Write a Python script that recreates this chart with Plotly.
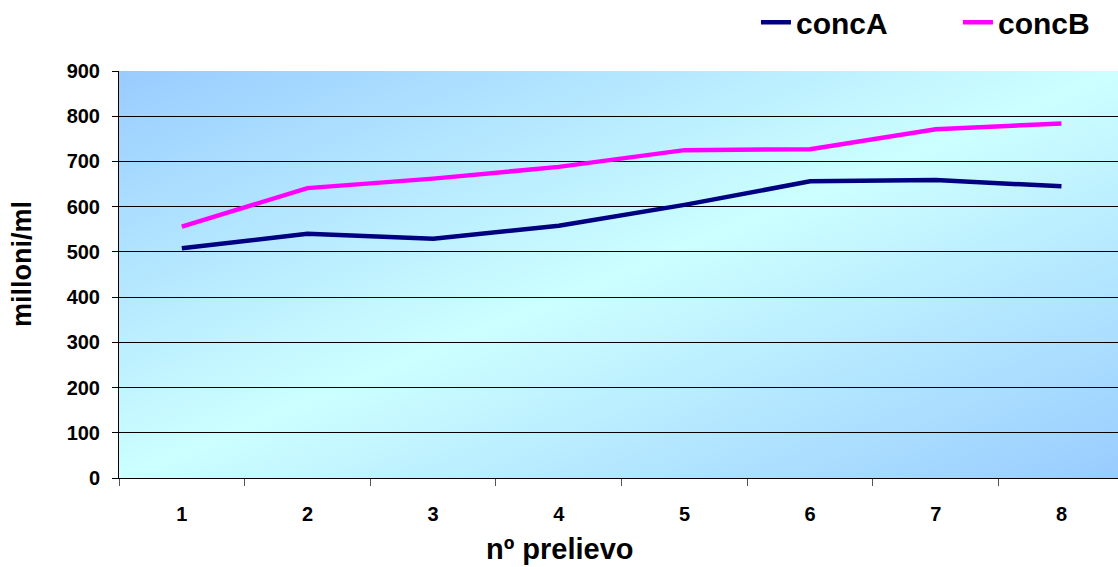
import base64
import plotly.graph_objects as go

# Sample numbers and measured concentrations (millions per ml)
prelievo = ["1", "2", "3", "4", "5", "6", "7", "8"]
conc_a = [508, 540, 529, 558, 604, 656, 659, 645]
conc_b = [556, 641, 662, 688, 725, 727, 771, 784]

y_ticks = [0, 100, 200, 300, 400, 500, 600, 700, 800, 900]
grid_vals = [100, 200, 300, 400, 500, 600, 700, 800]

FONT = "Liberation Sans, Arial, sans-serif"

# Diagonal blue -> cyan -> blue fill for the plotting area
grad_svg = (
    '<svg xmlns="http://www.w3.org/2000/svg" width="1000" height="400" '
    'viewBox="0 0 1000 400" preserveAspectRatio="none">'
    '<defs><linearGradient id="g" x1="0" y1="0" x2="1" y2="1">'
    '<stop offset="0" stop-color="#99CCFF"/>'
    '<stop offset="0.5" stop-color="#CCFFFF"/>'
    '<stop offset="1" stop-color="#99CCFF"/>'
    '</linearGradient></defs>'
    '<rect width="1000" height="400" fill="url(#g)"/></svg>'
)
grad_uri = "data:image/svg+xml;base64," + base64.b64encode(grad_svg.encode()).decode()

fig = go.Figure()
fig.add_trace(go.Scatter(
    x=prelievo, y=conc_a, name="concA", mode="lines",
    line=dict(color="#000080", width=4.5),
))
fig.add_trace(go.Scatter(
    x=prelievo, y=conc_b, name="concB", mode="lines",
    line=dict(color="#FF00FF", width=4.5),
))

fig.update_layout(
    width=1118, height=567,
    margin=dict(l=119, r=0, t=71, b=89, autoexpand=False),
    paper_bgcolor="white",
    plot_bgcolor="rgba(0,0,0,0)",
    font=dict(family=FONT, color="black"),
    images=[dict(
        source=grad_uri, xref="paper", yref="paper",
        x=0, y=1, sizex=1, sizey=1, xanchor="left", yanchor="top",
        sizing="stretch", layer="below",
    )],
    xaxis=dict(
        type="category", range=[-0.5, 7.45],
        tickson="boundaries", ticks="outside", ticklen=7, tickcolor="#555555",
        tickfont=dict(size=20, family=FONT, weight="bold"),
        ticklabelstandoff=18,
        showline=True, linecolor="black", linewidth=1,
        showgrid=False, zeroline=False,
    ),
    yaxis=dict(
        range=[0, 900], tickvals=y_ticks,
        ticks="outside", ticklen=6, tickcolor="black",
        tickfont=dict(size=20, family=FONT, weight="bold"),
        ticklabelstandoff=8,
        showline=True, linecolor="black", linewidth=1,
        showgrid=False, zeroline=False,
        # horizontal rules at the inner hundreds only
        minor=dict(tickvals=grid_vals, showgrid=True, gridcolor="black",
                   gridwidth=1, ticks=""),
    ),
    showlegend=True,
    legend=dict(
        orientation="h", xanchor="right", yanchor="middle",
        x=1.042, y=1.12,
        font=dict(size=30, family=FONT, weight="bold"),
        bgcolor="rgba(0,0,0,0)", entrywidth=157,
    ),
    annotations=[
        dict(text="nº prelievo", xref="paper", yref="paper",
             x=(560 - 119) / 999, y=-0.175, xanchor="center", yanchor="middle",
             showarrow=False, font=dict(size=29, family=FONT, weight="bold")),
        dict(text="milloni/ml", xref="paper", yref="paper",
             x=(22 - 119) / 999, y=(478 - 264) / 407, xanchor="center", yanchor="middle",
             textangle=-90, showarrow=False,
             font=dict(size=27, family=FONT, weight="bold")),
    ],
)

fig.write_html("out.html")
